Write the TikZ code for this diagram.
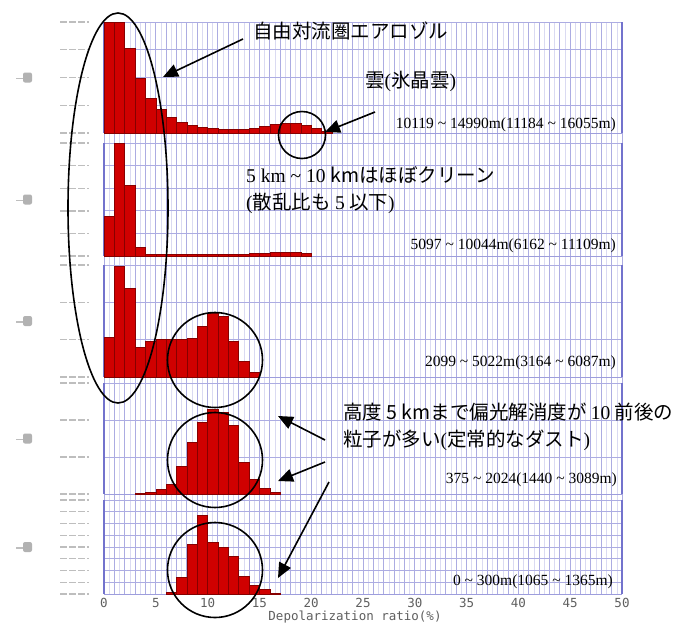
\documentclass[tikz,border=0pt]{standalone}
\usepackage{fontspec}
\setmainfont{Liberation Serif}
\newfontfamily\jpfont{Noto Sans CJK JP}
\newfontfamily\axfont{DejaVu Sans Mono}
\usetikzlibrary{arrows.meta}
\definecolor{gridc}{RGB}{172,172,226}
\definecolor{gridlight}{RGB}{218,218,242}
\definecolor{framec}{RGB}{115,115,205}
\definecolor{barfill}{RGB}{208,0,0}
\definecolor{barline}{RGB}{135,0,0}
\definecolor{tickgray}{RGB}{190,190,190}
\definecolor{axgray}{RGB}{95,95,95}
\begin{document}
\begin{tikzpicture}[x=1pt,y=-1pt,
  gridline/.style={draw=gridc,line width=1pt},
  halfline/.style={draw=gridlight,line width=0.6pt},
  hgridline/.style={draw=gridc,line width=0.8pt},
  frameline/.style={draw=framec,line width=1.2pt},
  bar/.style={fill=barfill,draw=barline,line width=0.5pt},
  ringshape/.style={draw=black,line width=1.6pt},
  pointer/.style={draw=black,line width=1.6pt,-{Triangle[length=15pt,width=13pt]}},
  jplabel/.style={font=\jpfont\fontsize{19.5}{24}\selectfont,anchor=west,inner sep=0pt},
  rangelabel/.style={font=\fontsize{15.5}{18}\selectfont,anchor=east,inner sep=0pt},
  axlabel/.style={font=\axfont\fontsize{12.5}{14}\selectfont,text=axgray,inner sep=0pt},
  ytick/.style={draw=tickgray,line width=1.4pt,dash pattern=on 7pt off 2pt},
  ylab/.style={fill=gray!60,draw=none,rounded corners=2pt},
]
\useasboundingbox (0,0) rectangle (696,625);
\fill[white] (0,0) rectangle (696,625);

% vertical grid lines
\foreach \p in {0,...,49}
  \draw[halfline] ({104+10.36*(\p+0.5)},22) -- ({104+10.36*(\p+0.5)},594);
\foreach \p in {0,...,50}
  \draw[gridline] ({104+10.36*\p},22) -- ({104+10.36*\p},594);

% horizontal grid lines, frames, y tick smudges, y labels
\foreach \tp/\bs/\nn in {22/133/4,143/256/5,265/377/3,383/494/3,500/594/8}{
  \foreach \k in {0,...,\nn}{
    \draw[hgridline] (104,{\tp+(\bs-\tp)*\k/\nn}) -- (622,{\tp+(\bs-\tp)*\k/\nn});
    \draw[ytick] (60,{\tp+(\bs-\tp)*\k/\nn}) -- (89,{\tp+(\bs-\tp)*\k/\nn});
  }
  \draw[frameline] (104,\tp) -- (104,\bs);
  \draw[frameline] (622,\tp) -- (622,\bs);
  \draw[draw=framec!70,line width=0.9pt] (104,\bs) -- (622,\bs);
  \fill[ylab] (23,{(\tp+\bs)/2-5}) rectangle (32,{(\tp+\bs)/2+5});
  \draw[tickgray,line width=1.2pt] (16,{(\tp+\bs)/2+1}) -- (23,{(\tp+\bs)/2+1});
}

% histogram bars
\foreach \h [count=\i from 0] in {1.0,1.0,0.76,0.49,0.31,0.21,0.14,0.10,0.07,0.05,0.04,0.03,0.03,0.03,0.04,0.06,0.08,0.09,0.09,0.07,0.04,0.02}
  \draw[bar] ({104+10.36*\i},133) rectangle ({104+10.36*(\i+1)},{133-111*\h});
\foreach \h [count=\i from 0] in {0.35,1.0,0.63,0.08,0.015,0.015,0.015,0.015,0.015,0.015,0.015,0.015,0.015,0.015,0.02,0.02,0.03,0.03,0.03,0.02}
  \draw[bar] ({104+10.36*\i},256) rectangle ({104+10.36*(\i+1)},{256-113*\h});
\foreach \h [count=\i from 0] in {0.36,1.0,0.8,0.27,0.32,0.34,0.34,0.34,0.35,0.46,0.57,0.55,0.32,0.14,0.04}
  \draw[bar] ({104+10.36*\i},377) rectangle ({104+10.36*(\i+1)},{377-111*\h});
\foreach \h [count=\i from 3] in {0.01,0.02,0.04,0.09,0.25,0.47,0.65,0.76,0.74,0.62,0.29,0.13,0.05,0.02}
  \draw[bar] ({104+10.36*\i},494) rectangle ({104+10.36*(\i+1)},{494-111*\h});
\foreach \h [count=\i from 6] in {0.02,0.18,0.53,0.84,0.55,0.5,0.40,0.19,0.09,0.05,0.01}
  \draw[bar] ({104+10.36*\i},594) rectangle ({104+10.36*(\i+1)},{594-94*\h});

% x axis labels
\foreach \v in {0,5,...,50}
  \node[axlabel] (xl\v) at ({104+10.36*\v},603) {\v};
\node[axlabel] (xtitle) at (355,617) {Depolarization ratio(\%)};

% range labels
\node[rangelabel] (r1) at (616,125) {10119 \textasciitilde{} 14990m(11184 \textasciitilde{} 16055m)};
\node[rangelabel] (r2) at (616,246) {5097 \textasciitilde{} 10044m(6162 \textasciitilde{} 11109m)};
\node[rangelabel] (r3) at (616,363) {2099 \textasciitilde{} 5022m(3164 \textasciitilde{} 6087m)};
\node[rangelabel] (r4) at (617,480) {375 \textasciitilde{} 2024(1440 \textasciitilde{} 3089m)};
\node[rangelabel] (r5) at (613,582) {0 \textasciitilde{} 300m(1065 \textasciitilde{} 1365m)};

% ellipse and circles
\draw[ringshape] (118,208) ellipse [x radius=50pt, y radius=195pt];
\draw[ringshape] (302,135) circle [radius=23.5pt];
\draw[ringshape] (215,360) circle [radius=47.5pt];
\draw[ringshape] (215,460) circle [radius=47.5pt];
\draw[ringshape] (215,570) circle [radius=47.5pt];

% annotations
\node[jplabel] (aerosol) at (253,31) {自由対流圏エアロゾル};
\node[jplabel] (cloud) at (365,81) {雲{\rmfamily(}氷晶雲{\rmfamily)}};
\node[jplabel] (clean1) at (246,175) {{\rmfamily 5 km \textasciitilde{} 10 }kmはほぼクリーン};
\node[jplabel] (clean2) at (246,203) {{\rmfamily(}散乱比も {\rmfamily 5} 以下{\rmfamily)}};
\node[jplabel] (dust1) at (343,412) {高度 5 kmまで偏光解消度が {\rmfamily 10} 前後の};
\node[jplabel] (dust2) at (343,440) {粒子が多い{\rmfamily(}定常的なダスト{\rmfamily)}};

% arrows
\coordinate (aerosolTail) at (243,39);
\coordinate (aerosolTip) at (163,77);
\draw[pointer] (aerosolTail) -- (aerosolTip);
\coordinate (cloudTail) at (375,112);
\coordinate (cloudTip) at (325,132);
\draw[pointer] (cloudTail) -- (cloudTip);
\coordinate (dustTailA) at (325,440);
\coordinate (dustTipA) at (278,416);
\draw[pointer] (dustTailA) -- (dustTipA);
\coordinate (dustTailB) at (325,462);
\coordinate (dustTipB) at (278,481);
\draw[pointer] (dustTailB) -- (dustTipB);
\coordinate (dustTailC) at (329,482);
\coordinate (dustTipC) at (278,578);
\draw[pointer] (dustTailC) -- (dustTipC);
\end{tikzpicture}
\end{document}
